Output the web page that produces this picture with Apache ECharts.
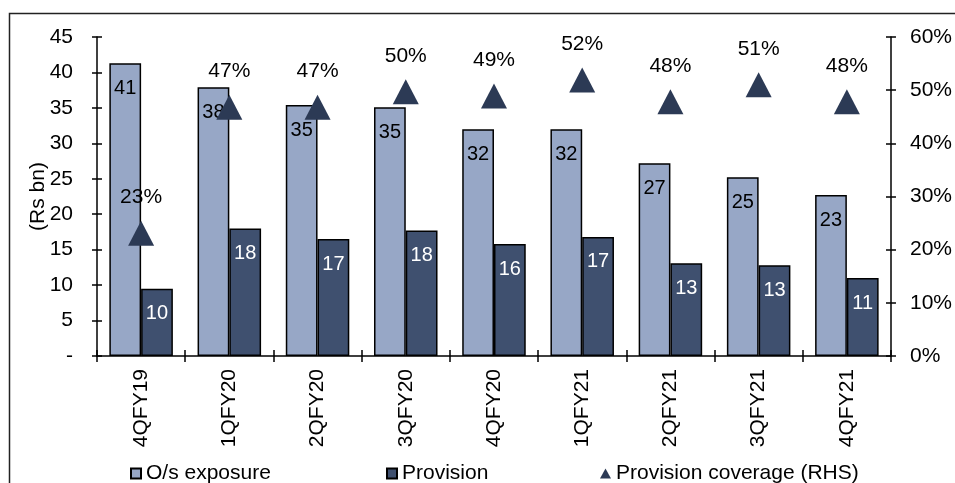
<!DOCTYPE html>
<html>
<head>
<meta charset="utf-8">
<script src="https://cdn.jsdelivr.net/npm/echarts@6/dist/echarts.min.js"></script>
<style>
html,body{margin:0;padding:0;background:#fff;}
#chart{width:955px;height:483px;}
</style>
</head>
<body>
<div id="chart"></div>
<script>
var categories = ['4QFY19','1QFY20','2QFY20','3QFY20','4QFY20','1QFY21','2QFY21','3QFY21','4QFY21'];
var exposure = [41.3, 37.9, 35.4, 35.1, 32.0, 32.0, 27.2, 25.2, 22.7];
var provision = [9.5, 18.0, 16.5, 17.7, 15.8, 16.8, 13.1, 12.8, 11.0];
var coverage = [0.231, 0.468, 0.468, 0.497, 0.489, 0.519, 0.478, 0.51, 0.478];
var leftTicks = {min: 0, max: 45, interval: 5};
var rightTicks = {min: 0, max: 0.6, interval: 0.1};

var FONT = 'Liberation Sans, Arial, sans-serif';
var chart = echarts.init(document.getElementById('chart'));
var option = {
  animation: false,
  textStyle: {fontFamily: FONT},
  grid: {left: 97, right: 52, top: 37, bottom: 127},
  graphic: [{
    type: 'rect', shape: {x: 9.5, y: 13.5, width: 980, height: 520},
    style: {fill: 'none', stroke: '#222', lineWidth: 1.5}, silent: true
  }],
  legend: [
    {data: ['O/s exposure'], left: 125, top: 458, icon: 'rect', itemWidth: 10, itemHeight: 10, textStyle: {fontSize: 21, color: '#000', fontFamily: FONT}},
    {data: ['Provision'], left: 381, top: 458, icon: 'rect', itemWidth: 10, itemHeight: 10, textStyle: {fontSize: 21, color: '#000', fontFamily: FONT}},
    {data: ['Provision coverage (RHS)'], left: 595, top: 458, itemWidth: 11, itemHeight: 10, textStyle: {fontSize: 21, color: '#000', fontFamily: FONT}}
  ],
  xAxis: [{
    type: 'category', data: categories,
    axisLine: {lineStyle: {color: '#000', width: 1.5}},
    axisTick: {show: true, length: 6, lineStyle: {color: '#000', width: 1.5}},
    axisLabel: {rotate: 90, fontSize: 21, color: '#000', margin: 13, fontFamily: FONT}
  }, {
    type: 'category', data: categories, position: 'bottom',
    axisLine: {show: false},
    axisTick: {show: true, inside: true, length: 6, lineStyle: {color: '#000', width: 1.5}},
    axisLabel: {show: false}
  }],
  yAxis: [{
    type: 'value', min: leftTicks.min, max: leftTicks.max, interval: leftTicks.interval,
    name: '(Rs bn)', nameLocation: 'middle', nameGap: 48, nameRotate: 90, nameMoveOverlap: false,
    nameTextStyle: {fontSize: 21, color: '#000', fontFamily: FONT},
    axisLine: {show: true, lineStyle: {color: '#000', width: 1.5}},
    axisTick: {show: true, length: 5, lineStyle: {color: '#000', width: 1.5}},
    splitLine: {show: false},
    axisLabel: {fontSize: 21, color: '#000', margin: 24, fontFamily: FONT,
      formatter: function (v) { return v === 0 ? '-' : v; }}
  }, {
    type: 'value', position: 'right', min: rightTicks.min, max: rightTicks.max, interval: rightTicks.interval,
    axisLine: {show: true, lineStyle: {color: '#000', width: 1.5}},
    axisTick: {show: true, length: 5, lineStyle: {color: '#000', width: 1.5}},
    splitLine: {show: false},
    axisLabel: {fontSize: 21, color: '#000', margin: 19, fontFamily: FONT,
      formatter: function (v) { return Math.round(v * 100) + '%'; }}
  }, {
    type: 'value', position: 'left', min: leftTicks.min, max: leftTicks.max, interval: leftTicks.interval,
    axisLine: {show: false}, splitLine: {show: false}, axisLabel: {show: false},
    axisTick: {show: true, inside: true, length: 5, lineStyle: {color: '#000', width: 1.5}}
  }, {
    type: 'value', position: 'right', min: rightTicks.min, max: rightTicks.max, interval: rightTicks.interval,
    axisLine: {show: false}, splitLine: {show: false}, axisLabel: {show: false},
    axisTick: {show: true, inside: true, length: 5, lineStyle: {color: '#000', width: 1.5}}
  }],
  series: [{
    name: 'O/s exposure', type: 'bar', data: exposure, barGap: '0%', barCategoryGap: '28%',
    itemStyle: {color: '#97A7C6', borderColor: '#000', borderWidth: 1.5},
    label: {show: true, position: 'insideTop', distance: 15, fontSize: 20, color: '#000', fontFamily: FONT,
      formatter: function (p) { return Math.round(p.value); }}
  }, {
    name: 'Provision', type: 'bar', data: provision,
    itemStyle: {color: '#3F506F', borderColor: '#000', borderWidth: 1.5},
    label: {show: true, position: 'insideTop', distance: 15, fontSize: 20, color: '#fff', fontFamily: FONT,
      formatter: function (p) { return Math.round(p.value); }}
  }, {
    name: 'Provision coverage (RHS)', type: 'scatter', yAxisIndex: 1, data: coverage,
    symbol: 'triangle', symbolSize: [26, 25],
    itemStyle: {color: '#2C3A55', opacity: 1},
    label: {show: true, position: 'top', distance: 13, fontSize: 21, color: '#000', fontFamily: FONT,
      formatter: function (p) { return Math.round(p.value * 100) + '%'; }},
    z: 5
  }]
};
chart.setOption(option);
</script>
</body>
</html>
